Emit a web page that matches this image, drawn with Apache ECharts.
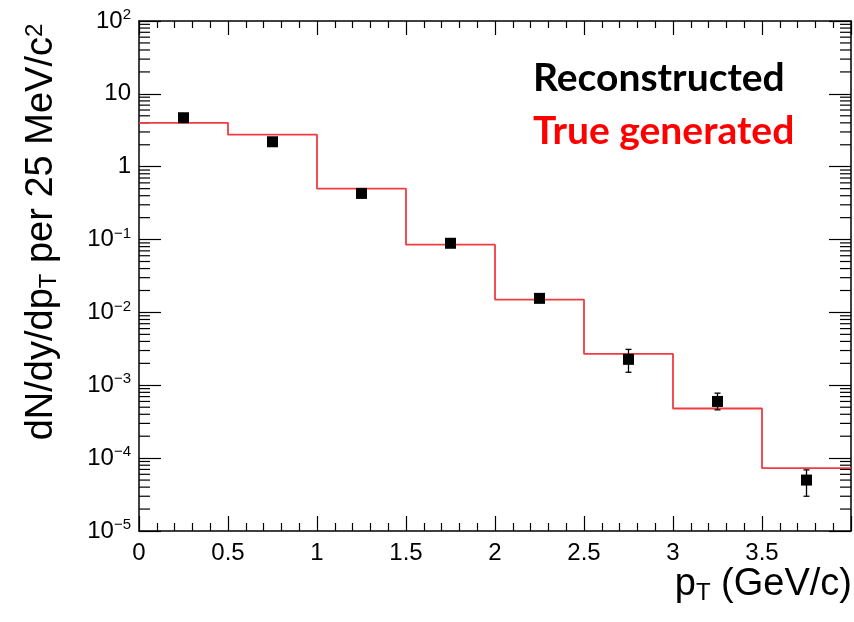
<!DOCTYPE html>
<html><head><meta charset="utf-8">
<script src="https://cdn.jsdelivr.net/npm/echarts@6/dist/echarts.min.js"></script>
<style>html,body{margin:0;padding:0;background:#fff}#c{width:854px;height:622px}</style>
</head><body><div id="c"></div>
<script>
// ---- data ----
const binEdges = [0, 0.5, 1, 1.5, 2, 2.5, 3, 3.5, 4];
const trueValues = [4.0, 2.75, 0.50, 0.085, 0.015, 0.0027, 0.00048, 0.000073];
const recoX = [0.25, 0.75, 1.25, 1.75, 2.25, 2.75, 3.25, 3.75];
const recoY = [4.7, 2.2, 0.43, 0.089, 0.0156, 0.00227, 0.00060, 0.000050];
const recoErrLow = [4.5, 2.1, 0.41, 0.085, 0.0148, 0.00151, 0.00046, 0.000030];
const recoErrHigh = [4.9, 2.3, 0.45, 0.093, 0.0164, 0.00311, 0.00078, 0.000069];
const yMajorTicks = [1e-5, 1e-4, 1e-3, 1e-2, 1e-1, 1, 10, 100];
const xTickLabels = ['0', '0.5', '1', '1.5', '2', '2.5', '3', '3.5'];
const legendLabels = ['Reconstructed', 'True generated'];

// ---- derived ----
const histData = binEdges.map((e, i) => [e, trueValues[Math.min(i, trueValues.length - 1)]]);
const pointData = recoX.map((x, i) => [x, recoY[i]]);
const errData = recoX.map((x, i) => [x, recoErrLow[i], recoErrHigh[i]]);
const minorTickVals = [];
for (let k = 0; k < yMajorTicks.length - 1; k++) {
  for (let m = 2; m <= 9; m++) minorTickVals.push(m * yMajorTicks[k]);
}

const FONT = 'Liberation Sans, Arial, sans-serif';
const chart = echarts.init(document.getElementById('c'), null, {renderer: 'canvas'});

function yLabel(v) {
  const e = Math.round(Math.log10(v));
  if (e === 0) return '1';
  if (e === 1) return '10';
  return '10{sup|' + String(e).replace('-', '\u2212') + '}';
}

const axisLineStyle = {color: '#000', width: 1.5};

chart.setOption({
  animation: false,
  backgroundColor: '#fff',
  grid: {left: 139, right: 3, top: 21, bottom: 91, show: false},
  xAxis: [{
    type: 'value', min: 0, max: 4, interval: 0.5, position: 'bottom',
    axisLine: {show: true, onZero: false, lineStyle: axisLineStyle},
    axisTick: {show: true, inside: true, length: 15, lineStyle: {color: '#000', width: 1.2}},
    minorTick: {show: true, splitNumber: 5, length: 8, lineStyle: {color: '#000', width: 1.2}},
    splitLine: {show: false},
    axisLabel: {
      show: true, showMaxLabel: false, margin: 10, color: '#000', fontFamily: FONT, fontSize: 24,
      formatter: (v) => { const i = Math.round(v / 0.5); return xTickLabels[i] !== undefined ? xTickLabels[i] : ''; }
    }
  }, {
    type: 'value', min: 0, max: 4, interval: 0.5, position: 'top',
    axisLine: {show: true, onZero: false, lineStyle: axisLineStyle},
    axisTick: {show: true, inside: true, length: 14, lineStyle: {color: '#000', width: 1.2}},
    minorTick: {show: true, splitNumber: 5, length: 7, lineStyle: {color: '#000', width: 1.2}},
    splitLine: {show: false}, axisLabel: {show: false}
  }],
  yAxis: [{
    type: 'log', logBase: 10, min: 1e-5, max: 100, position: 'left',
    axisLine: {show: true, onZero: false, lineStyle: axisLineStyle},
    axisTick: {show: true, inside: true, length: 22, lineStyle: {color: '#000', width: 1.2}},
    splitLine: {show: false},
    axisLabel: {
      show: true, margin: 8, color: '#000', fontFamily: FONT, fontSize: 24,
      formatter: yLabel,
      rich: {sup: {fontSize: 15, fontFamily: FONT, color: '#000', verticalAlign: 'top', padding: [0, 0, 12, 0]}}
    }
  }, {
    type: 'log', logBase: 10, min: 1e-5, max: 100, position: 'right',
    axisLine: {show: true, onZero: false, lineStyle: axisLineStyle},
    axisTick: {show: true, inside: true, length: 22, lineStyle: {color: '#000', width: 1.2}},
    splitLine: {show: false}, axisLabel: {show: false}
  }],
  series: [
    {
      type: 'line', name: legendLabels[1], xAxisIndex: 0, yAxisIndex: 0,
      data: histData, step: 'end', showSymbol: false, symbol: 'none',
      lineStyle: {color: '#f03c40', width: 1.8}, z: 3
    },
    {
      type: 'custom', name: 'minorTicks', xAxisIndex: 0, yAxisIndex: 0,
      data: minorTickVals.map(v => [v]), silent: true, z: 2, clip: false,
      encode: {y: 0},
      renderItem: function (params, api) {
        const v = api.value(0);
        const pl = api.coord([0, v]);
        const pr = api.coord([4, v]);
        return {type: 'group', children: [
          {type: 'line', shape: {x1: pl[0], y1: pl[1], x2: pl[0] + 11, y2: pl[1]}, style: {stroke: '#000', lineWidth: 1.2}},
          {type: 'line', shape: {x1: pr[0], y1: pr[1], x2: pr[0] - 11, y2: pr[1]}, style: {stroke: '#000', lineWidth: 1.2}}
        ]};
      }
    },
    {
      type: 'custom', name: 'errors', xAxisIndex: 0, yAxisIndex: 0,
      data: errData, z: 4,
      renderItem: function (params, api) {
        const x = api.value(0);
        const lo = api.coord([x, api.value(1)]);
        const hi = api.coord([x, api.value(2)]);
        const st = {stroke: '#000', lineWidth: 1.3};
        return {type: 'group', children: [
          {type: 'line', shape: {x1: lo[0], y1: lo[1], x2: hi[0], y2: hi[1]}, style: st},
          {type: 'line', shape: {x1: lo[0] - 3, y1: lo[1], x2: lo[0] + 3, y2: lo[1]}, style: st},
          {type: 'line', shape: {x1: hi[0] - 3, y1: hi[1], x2: hi[0] + 3, y2: hi[1]}, style: st}
        ]};
      }
    },
    {
      type: 'scatter', name: legendLabels[0], xAxisIndex: 0, yAxisIndex: 0,
      data: pointData, symbol: 'rect', symbolSize: 11,
      itemStyle: {color: '#000', opacity: 1}, z: 5
    }
  ],
  graphic: [
    {type: 'text', left: 533, top: 59, style: {text: legendLabels[0], fill: '#000', font: 'bold 39px Lato, "Open Sans", sans-serif'}},
    {type: 'text', left: 533, top: 112, style: {text: legendLabels[1], fill: '#ff0000', font: 'bold 39px Lato, "Open Sans", sans-serif'}},
    {type: 'text', x: 42, y: 232, rotation: Math.PI / 2,
      style: {
        text: 'dN/dy/dp{sub|T} per 25 MeV/c{sup|2}', fill: '#000', fontFamily: FONT, fontSize: 38,
        align: 'center', verticalAlign: 'middle',
        rich: {
          sub: {fontSize: 24, fontFamily: FONT, fill: '#000', verticalAlign: 'bottom', padding: [14, 0, 0, 0]},
          sup: {fontSize: 24, fontFamily: FONT, fill: '#000', verticalAlign: 'top', padding: [0, 0, 14, 0]}
        }
      }},
    {type: 'text', right: 2, top: 566,
      style: {
        text: 'p{sub|T} (GeV/c)', fill: '#000', fontFamily: FONT, fontSize: 38,
        rich: {sub: {fontSize: 24, fontFamily: FONT, fill: '#000', verticalAlign: 'bottom', padding: [16, 0, 0, 0]}}
      }}
  ]
});
</script>
</body></html>
